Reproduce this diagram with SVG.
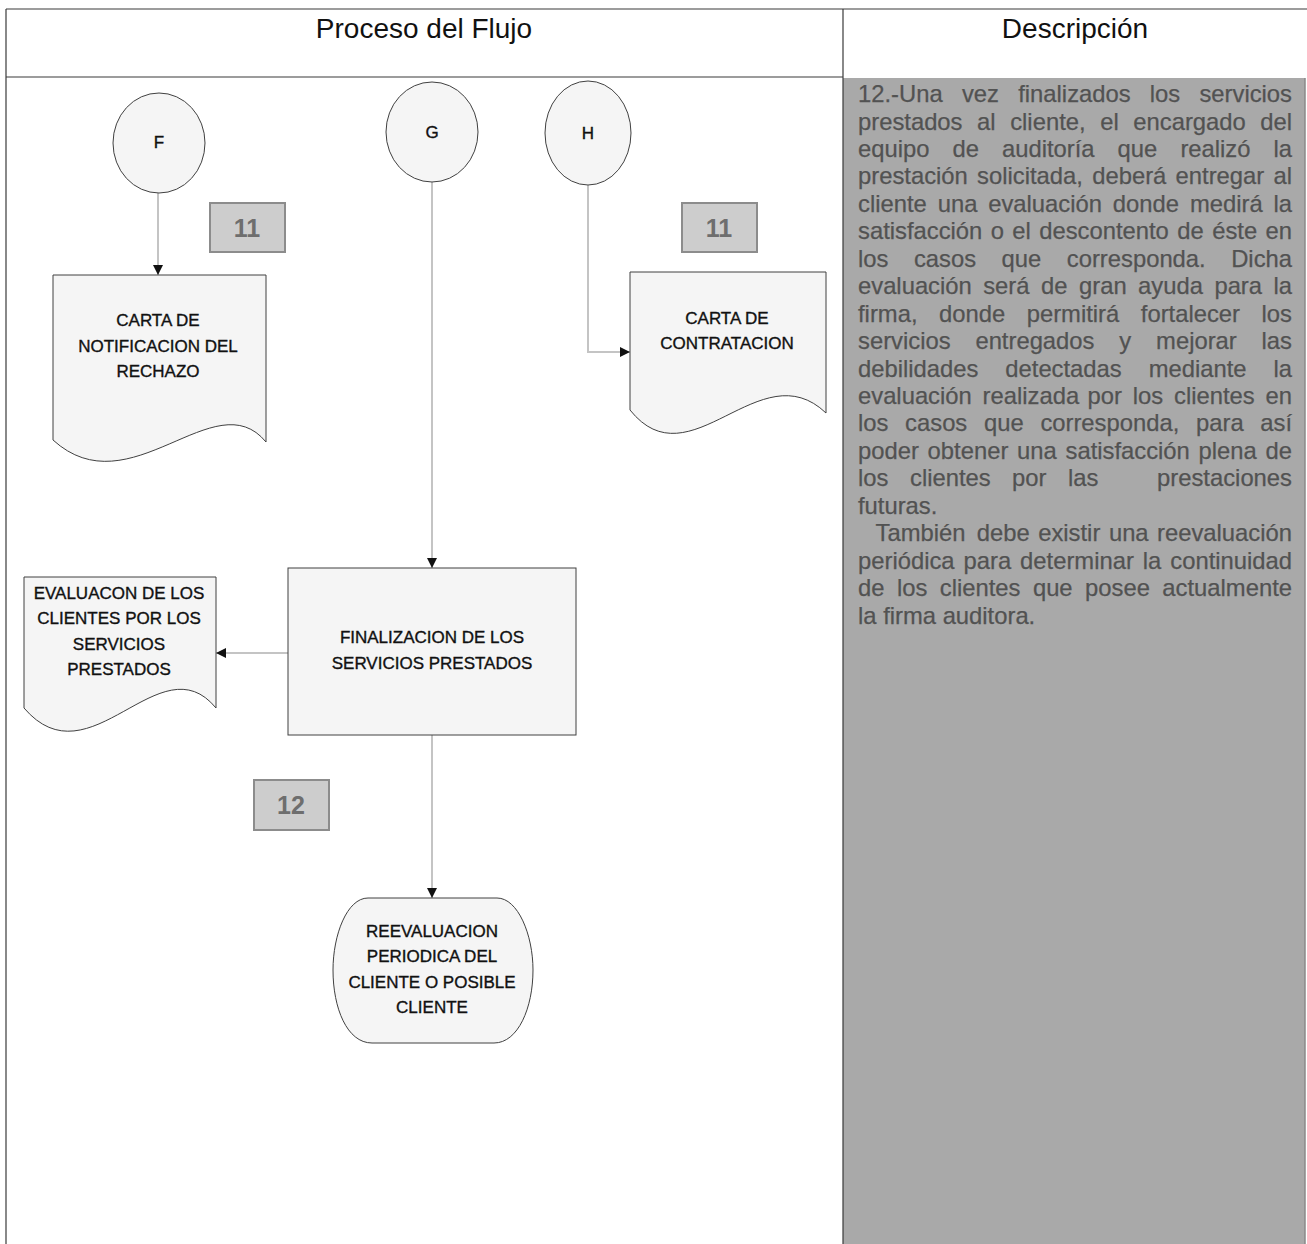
<svg xmlns="http://www.w3.org/2000/svg" width="1307" height="1244" viewBox="0 0 1307 1244">
  <defs>
    <marker id="arrow" markerUnits="userSpaceOnUse" markerWidth="10" markerHeight="10" viewBox="0 0 10 10" refX="10" refY="5" orient="auto">
      <path d="M0,0 L10,5 L0,10 z" fill="#111"/>
    </marker>
    <style>
      .frame { fill: none; stroke: #3a3a3a; stroke-width: 1.2; }
      .head { font-family: "Liberation Sans", Arial, sans-serif; font-size: 28px; fill: #111; text-anchor: middle; }
      .shape { fill: #f5f5f5; stroke: #404040; stroke-width: 1; }
      .conn { fill: none; stroke: #c4c4c4; stroke-width: 2; marker-end: url(#arrow); }
      .lbl { font-family: "Liberation Sans", Arial, sans-serif; font-size: 17px; fill: #111; stroke: #111; stroke-width: 0.35; text-anchor: middle; }
      .badge rect { fill: #cdcdcd; stroke: #8c8c8c; stroke-width: 2; }
      .badge text { font-family: "Liberation Sans", Arial, sans-serif; font-size: 25px; font-weight: bold; fill: #6e6e6e; text-anchor: middle; }
      .desc { font-family: "Liberation Sans", Arial, sans-serif; font-size: 23.8px; fill: #525252; stroke: #525252; stroke-width: 0.25; }
      .desc .e { text-anchor: end; }
    </style>
  </defs>

  <rect width="1307" height="1244" fill="#ffffff"/>

  <!-- description column background -->
  <rect x="843" y="78" width="462" height="1166" fill="#a9a9a9"/>
  <line x1="1305" y1="78" x2="1305" y2="1244" stroke="#8a8a8a" stroke-width="1.5"/>

  <!-- table frame -->
  <g id="frame">
    <line class="frame" x1="6" y1="9" x2="1307" y2="9"/>
    <line class="frame" x1="6" y1="9" x2="6" y2="1244"/>
    <line class="frame" x1="843" y1="9" x2="843" y2="1244"/>
    <line class="frame" x1="6" y1="77" x2="843" y2="77"/>
    <text class="head" x="424" y="38">Proceso del Flujo</text>
    <text class="head" x="1075" y="38">Descripción</text>
  </g>

  <!-- connectors -->
  <g id="connectors">
    <path class="conn" d="M158,193 L158,275"/>
    <path class="conn" d="M432,182 L432,568"/>
    <path class="conn" d="M588,185 L588,352 L630,352"/>
    <path class="conn" d="M288,653 L216,653"/>
    <path class="conn" d="M432,735 L432,898"/>
  </g>

  <!-- off-page connectors F, G, H -->
  <g id="node-f">
    <ellipse class="shape" cx="159" cy="143" rx="46" ry="50" fill="#fafafa"/>
    <text class="lbl" x="159" y="148">F</text>
  </g>
  <g id="node-g">
    <ellipse class="shape" cx="432" cy="132" rx="46" ry="50" fill="#fafafa"/>
    <text class="lbl" x="432" y="138">G</text>
  </g>
  <g id="node-h">
    <ellipse class="shape" cx="588" cy="133" rx="43" ry="52" fill="#fafafa"/>
    <text class="lbl" x="588" y="139">H</text>
  </g>

  <!-- step badges -->
  <g id="badge-11-left" class="badge">
    <rect x="210" y="203" width="75" height="49"/>
    <text x="247" y="237">11</text>
  </g>
  <g id="badge-11-right" class="badge">
    <rect x="682" y="203" width="75" height="49"/>
    <text x="719" y="237">11</text>
  </g>
  <g id="badge-12" class="badge">
    <rect x="254" y="780" width="75" height="50"/>
    <text x="291" y="814">12</text>
  </g>

  <!-- documents -->
  <g id="doc-rechazo">
    <path class="shape" d="M53,275 L266,275 L266,442 C215,380 130,510 53,440 Z"/>
    <text class="lbl" x="158" y="326">CARTA DE</text>
    <text class="lbl" x="158" y="352">NOTIFICACION DEL</text>
    <text class="lbl" x="158" y="377">RECHAZO</text>
  </g>
  <g id="doc-contratacion">
    <path class="shape" d="M630,272 L826,272 L826,413 C760,350 690,485 630,410 Z"/>
    <text class="lbl" x="727" y="324">CARTA DE</text>
    <text class="lbl" x="727" y="349">CONTRATACION</text>
  </g>
  <g id="doc-evaluacion">
    <path class="shape" d="M24,577 L216,577 L216,708 C160,640 90,785 24,708 Z"/>
    <text class="lbl" x="119" y="599">EVALUACON DE LOS</text>
    <text class="lbl" x="119" y="624">CLIENTES POR LOS</text>
    <text class="lbl" x="119" y="650">SERVICIOS</text>
    <text class="lbl" x="119" y="675">PRESTADOS</text>
  </g>

  <!-- process -->
  <g id="proc-finalizacion">
    <rect class="shape" x="288" y="568" width="288" height="167"/>
    <text class="lbl" x="432" y="643">FINALIZACION DE LOS</text>
    <text class="lbl" x="432" y="669">SERVICIOS PRESTADOS</text>
  </g>

  <!-- terminal -->
  <g id="term-reevaluacion">
    <path class="shape" d="M368,898 L497,898 C518,898 533,935 533,970 C533,1008 518,1043 494,1043 L372,1043 C347,1043 333,1008 333,970 C333,935 347,898 368,898 Z"/>
    <text class="lbl" x="432" y="937">REEVALUACION</text>
    <text class="lbl" x="432" y="962">PERIODICA DEL</text>
    <text class="lbl" x="432" y="988">CLIENTE O POSIBLE</text>
    <text class="lbl" x="432" y="1013">CLIENTE</text>
  </g>

  <!-- justified description text -->
  <g id="description" class="desc">
    <text y="102"><tspan x="858">12.-Una</tspan><tspan x="961.9">vez</tspan><tspan x="1018.2">finalizados</tspan><tspan x="1149.8">los</tspan><tspan class="e" x="1292">servicios</tspan></text>
    <text y="129.5"><tspan x="858">prestados</tspan><tspan x="977.1">al</tspan><tspan x="1010.2">cliente,</tspan><tspan x="1100.2">el</tspan><tspan x="1133.3">encargado</tspan><tspan class="e" x="1292">del</tspan></text>
    <text y="156.9"><tspan x="858">equipo</tspan><tspan x="952.5">de</tspan><tspan x="1002">auditoría</tspan><tspan x="1117.6">que</tspan><tspan x="1180.4">realizó</tspan><tspan class="e" x="1292">la</tspan></text>
    <text y="184.4"><tspan x="858">prestación</tspan><tspan x="977.1">solicitada,</tspan><tspan x="1092.2">deberá</tspan><tspan x="1175.6">entregar</tspan><tspan class="e" x="1292">al</tspan></text>
    <text y="211.8"><tspan x="858">cliente</tspan><tspan x="937.7">una</tspan><tspan x="988.2">evaluación</tspan><tspan x="1112.8">donde</tspan><tspan x="1189.9">medirá</tspan><tspan class="e" x="1292">la</tspan></text>
    <text y="239.3"><tspan x="858">satisfacción</tspan><tspan x="990.7">o</tspan><tspan x="1012.3">el</tspan><tspan x="1039.2">descontento</tspan><tspan x="1177.3">de</tspan><tspan x="1212.2">éste</tspan><tspan class="e" x="1292">en</tspan></text>
    <text y="266.7"><tspan x="858">los</tspan><tspan x="913.9">casos</tspan><tspan x="1001.6">que</tspan><tspan x="1066.8">corresponda.</tspan><tspan class="e" x="1292">Dicha</tspan></text>
    <text y="294.2"><tspan x="858">evaluación</tspan><tspan x="983.2">será</tspan><tspan x="1041">de</tspan><tspan x="1079">gran</tspan><tspan x="1138.1">ayuda</tspan><tspan x="1214.4">para</tspan><tspan class="e" x="1292">la</tspan></text>
    <text y="321.6"><tspan x="858">firma,</tspan><tspan x="939">donde</tspan><tspan x="1026.7">permitirá</tspan><tspan x="1140.8">fortalecer</tspan><tspan class="e" x="1292">los</tspan></text>
    <text y="349.1"><tspan x="858">servicios</tspan><tspan x="975.4">entregados</tspan><tspan x="1119.3">y</tspan><tspan x="1156.1">mejorar</tspan><tspan class="e" x="1292">las</tspan></text>
    <text y="376.5"><tspan x="858">debilidades</tspan><tspan x="1005.3">detectadas</tspan><tspan x="1148.7">mediante</tspan><tspan class="e" x="1292">la</tspan></text>
    <text y="404"><tspan x="858">evaluación</tspan><tspan x="982.6">realizada</tspan><tspan x="1087.6">por</tspan><tspan x="1132.8">los</tspan><tspan x="1174">clientes</tspan><tspan class="e" x="1292">en</tspan></text>
    <text y="431.4"><tspan x="858">los</tspan><tspan x="905.1">casos</tspan><tspan x="984">que</tspan><tspan x="1040.4">corresponda,</tspan><tspan x="1196">para</tspan><tspan class="e" x="1292">así</tspan></text>
    <text y="458.9"><tspan x="858">poder</tspan><tspan x="927.6">obtener</tspan><tspan x="1017.1">una</tspan><tspan x="1065.5">satisfacción</tspan><tspan x="1198.6">plena</tspan><tspan class="e" x="1292">de</tspan></text>
    <text y="486.3"><tspan x="858">los</tspan><tspan x="910">clientes</tspan><tspan x="1012">por</tspan><tspan x="1068">las</tspan><tspan class="e" x="1292">prestaciones</tspan></text>
    <text y="513.8" x="858">futuras.</text>
    <text y="541.2"><tspan x="875.5">También</tspan><tspan x="976.7">debe</tspan><tspan x="1038.2">existir</tspan><tspan x="1108.9">una</tspan><tspan class="e" x="1292">reevaluación</tspan></text>
    <text y="568.7"><tspan x="858">periódica</tspan><tspan x="963.5">para</tspan><tspan x="1020.1">determinar</tspan><tspan x="1142.8">la</tspan><tspan class="e" x="1292">continuidad</tspan></text>
    <text y="596.1"><tspan x="858">de</tspan><tspan x="896.9">los</tspan><tspan x="939.8">clientes</tspan><tspan x="1032.9">que</tspan><tspan x="1085.1">posee</tspan><tspan class="e" x="1292">actualmente</tspan></text>
    <text y="623.6" x="858">la firma auditora.</text>
  </g>
</svg>
